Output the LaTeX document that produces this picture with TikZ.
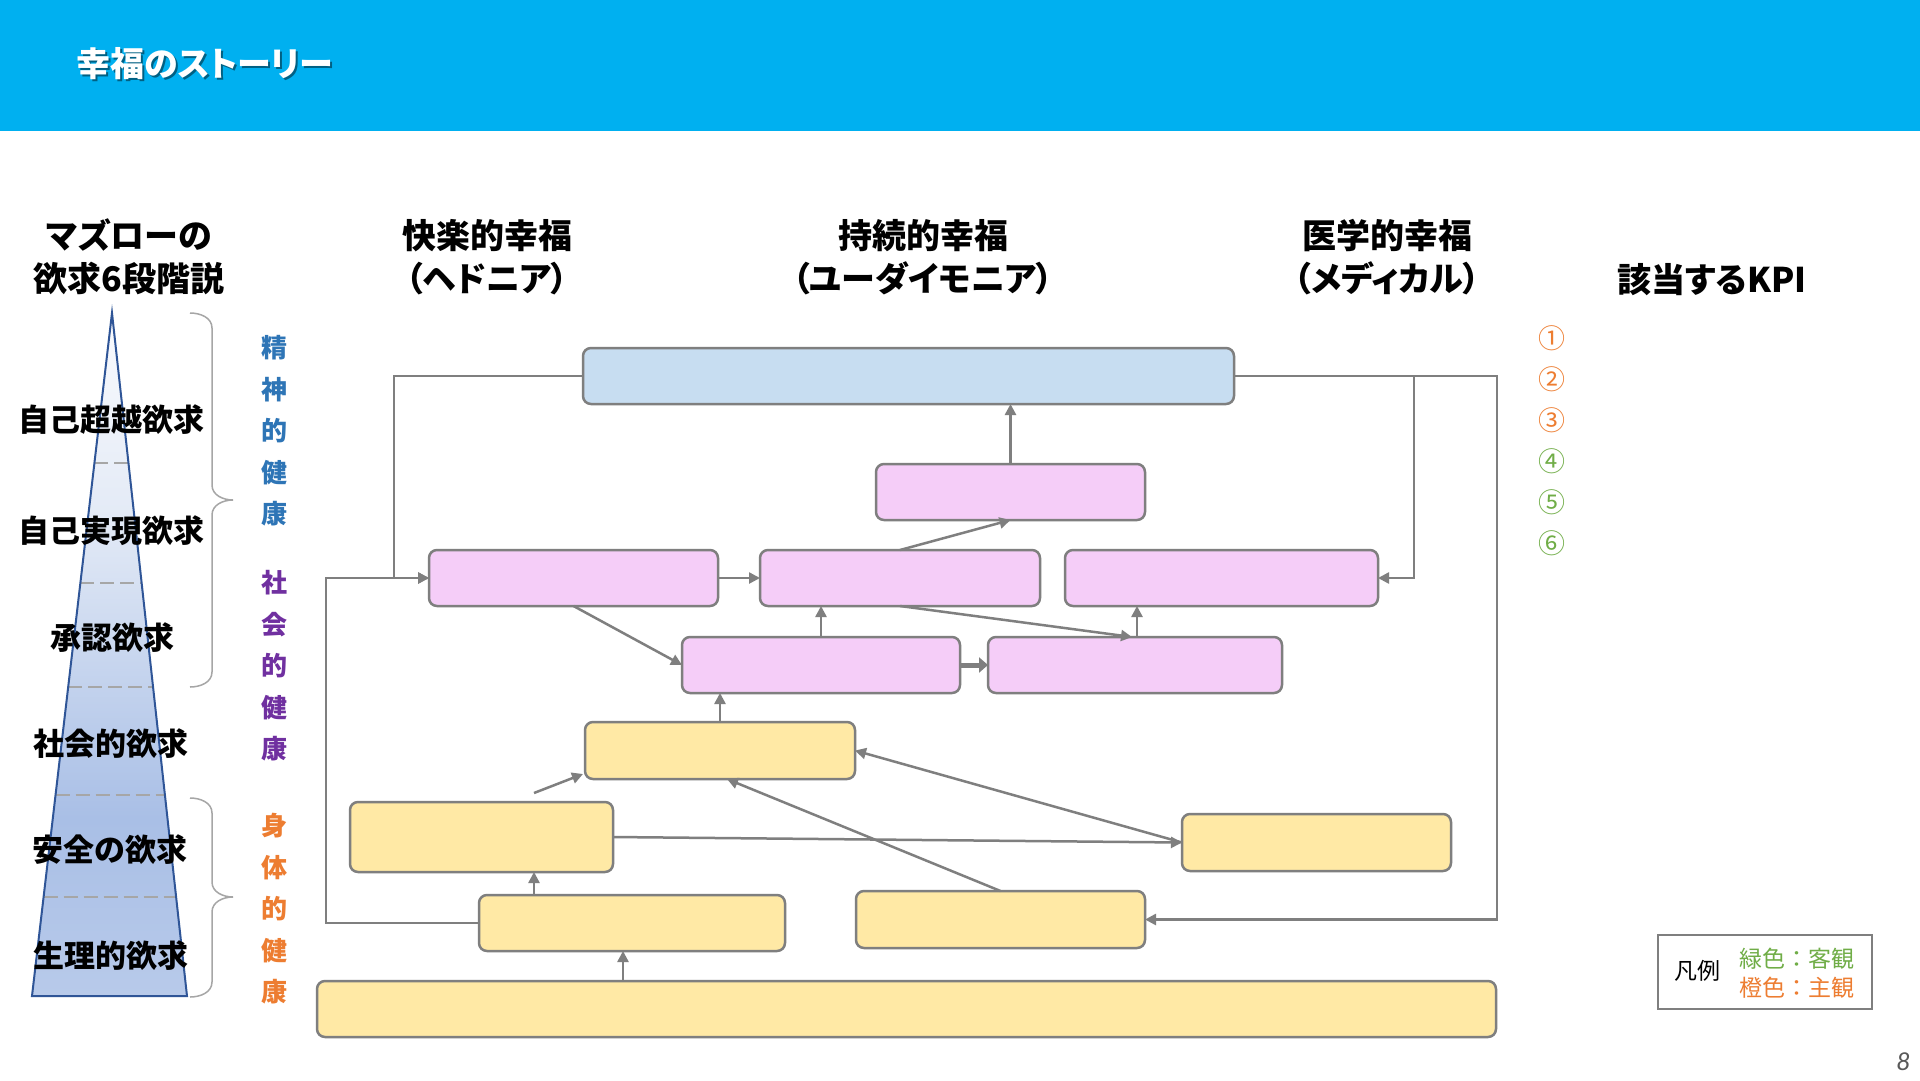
\documentclass[tikz,border=0pt]{standalone}
\usepackage{fontspec}
\setmainfont{Noto Sans CJK JP}
\newfontfamily\jpp{Noto Sans CJK JP}[RawFeature=+palt]
\newfontfamily\pgnum{Carlito}
\usetikzlibrary{arrows.meta,calc}
\definecolor{hdr}{HTML}{00B0F0}
\definecolor{boxline}{HTML}{7F7F7F}
\definecolor{bfill}{HTML}{C7DDF1}
\definecolor{pfill}{HTML}{F5CDF8}
\definecolor{yfill}{HTML}{FFE9A5}
\definecolor{pyrline}{HTML}{2F5597}
\definecolor{pyrtop}{HTML}{FAFBFE}
\definecolor{pyrlt}{HTML}{E3EAF6}
\definecolor{pyrmid}{HTML}{A9BFE6}
\definecolor{pyrbot}{HTML}{B8CAEA}
\definecolor{dashc}{HTML}{A6A6A6}
\definecolor{bracec}{HTML}{A6A6A6}
\definecolor{cblue}{HTML}{2E75B6}
\definecolor{cpurple}{HTML}{7030A0}
\definecolor{corange}{HTML}{ED7D31}
\definecolor{cgreen}{HTML}{70AD47}
\pgfdeclareverticalshading{pyrshade}{100bp}{color(0bp)=(pyrbot); color(25bp)=(pyrbot); color(38bp)=(pyrmid); color(60bp)=(pyrlt); color(75bp)=(pyrtop); color(100bp)=(pyrtop)}
\begin{document}
\begin{tikzpicture}[x=1pt,y=-1pt,
  every node/.style={inner sep=0pt,outer sep=0pt},
  box/.style={draw=boxline,line width=2.5pt,rounded corners=8pt},
  bluebox/.style={box,fill=bfill},
  pinkbox/.style={box,fill=pfill},
  yelbox/.style={box,fill=yfill},
  arr/.style={draw=boxline,line width=2.5pt,-{Triangle[length=11pt,width=11pt]}},
  thickarr/.style={draw=boxline,line width=5pt,-{Triangle[length=9pt,width=15pt]}},
  colhead/.style={font=\jpp\bfseries\fontsize{34}{43}\selectfont,align=center},
  lvl/.style={font=\jpp\bfseries\fontsize{31}{37}\selectfont},
  vert/.style={font=\bfseries\fontsize{26}{41.5}\selectfont,align=center},
  dsh/.style={draw=dashc,line width=2pt,dash pattern=on 14pt off 6pt},
  brc/.style={draw=bracec,line width=1.5pt},
  kpi/.style={font=\fontsize{27}{30}\selectfont},
  leg/.style={font=\fontsize{23}{28}\selectfont}
]
\useasboundingbox (0,0) rectangle (1920,1080);
\fill[white] (0,0) rectangle (1920,1080);
% header
\fill[hdr] (0,0) rectangle (1920,131);
\node[anchor=west,text=black,opacity=0.45,font=\jpp\bfseries\fontsize{34}{40}\selectfont] (titlesh) at (78,66) {幸福のストーリー};
\node[anchor=west,text=white,font=\jpp\bfseries\fontsize{34}{40}\selectfont] (title) at (76,64) {幸福のストーリー};

% column headings
\node[colhead] (h1) at (129,257) {マズローの\\欲求6段階説};
\node[colhead] (h2) at (487,257) {快楽的幸福\\（ヘドニア）};
\node[colhead] (h3) at (923,257) {持続的幸福\\（ユーダイモニア）};
\node[colhead] (h4) at (1387,257) {医学的幸福\\（メディカル）};
\node[colhead] (h5) at (1712,280) {該当するKPI};

% pyramid
\shade[shading=pyrshade] (112,313) -- (187,996) -- (32,996) -- cycle;
\draw[dsh] (94.4,463) -- (128.5,463);
\draw[dsh] (80.4,583) -- (141.6,583);
\draw[dsh] (68.2,687) -- (153.1,687);
\draw[dsh] (55.5,795) -- (164.9,795);
\draw[dsh] (43.6,897) -- (176.1,897);
\draw[pyrline,line width=2pt,line join=miter] (112,313) -- (187,996) -- (32,996) -- cycle;
\node[lvl] (l1) at (111,420) {自己超越欲求};
\node[lvl] (l2) at (111,531) {自己実現欲求};
\node[lvl] (l3) at (112,638) {承認欲求};
\node[lvl] (l4) at (111,744) {社会的欲求};
\node[lvl] (l5) at (110,850) {安全の欲求};
\node[lvl] (l6) at (111,956) {生理的欲求};

% braces
\draw[brc] (190,313) to[out=0,in=90] (212,328) -- (212,485) to[out=-90,in=180] (233,500)
  to[out=180,in=90] (212,515) -- (212,672) to[out=-90,in=0] (190,687);
\draw[brc] (190,798) to[out=0,in=90] (212,813) -- (212,882) to[out=-90,in=180] (233,897)
  to[out=180,in=90] (212,912) -- (212,982) to[out=-90,in=0] (190,997);

% vertical labels
\node[vert,text=cblue] (v1) at (274,431) {精\\神\\的\\健\\康};
\node[vert,text=cpurple] (v2) at (274,666) {社\\会\\的\\健\\康};
\node[vert,text=corange] (v3) at (274,909) {身\\体\\的\\健\\康};

% boxes
\node[bluebox,minimum width=651pt,minimum height=56pt] (b0) at (908.5,376) {};
\node[pinkbox,minimum width=269pt,minimum height=56pt] (p1) at (1010.5,492) {};
\node[pinkbox,minimum width=289pt,minimum height=56pt] (p2) at (573.5,578) {};
\node[pinkbox,minimum width=280pt,minimum height=56pt] (p3) at (900,578) {};
\node[pinkbox,minimum width=313pt,minimum height=56pt] (p4) at (1221.5,578) {};
\node[pinkbox,minimum width=278pt,minimum height=56pt] (p5) at (821,665) {};
\node[pinkbox,minimum width=294pt,minimum height=56pt] (p6) at (1135,665) {};
\node[yelbox,minimum width=270pt,minimum height=57pt] (y1) at (720,750.5) {};
\node[yelbox,minimum width=263pt,minimum height=70pt] (y2) at (481.5,837) {};
\node[yelbox,minimum width=269pt,minimum height=57pt] (y3) at (1316.5,842.5) {};
\node[yelbox,minimum width=306pt,minimum height=56pt] (y4) at (632,923) {};
\node[yelbox,minimum width=289pt,minimum height=57pt] (y5) at (1000.5,919.5) {};
\node[yelbox,minimum width=1179pt,minimum height=56pt] (y6) at (906.5,1009) {};

% connectors
\draw[arr] (b0.west) -- ++(-189,0) |- (p2.west);
\draw[arr] (y4.west) -- ++(-153,0) |- (p2.west);
\draw[arr] (b0.east) -- ++(180,0) |- (p4.east);
\draw[arr] (b0.east) -- ++(263,0) |- (y5.east);
\draw[arr] (p1.north) -- (p1.north |- b0.south);
\draw[arr] (p3.north) -- (p1.south);
\draw[arr] (p2.east) -- (p3.west);
\draw[arr] (p2.south) -- (p5.west);
\draw[arr] (p5.north) -- (p5.north |- p3.south);
\draw[thickarr] (p5.east) -- (p6.west);
\draw[arr] (p3.south) -- ([xshift=-3pt]p6.north);
\draw[arr] ([xshift=2pt]p6.north) -- ([xshift=2pt]p6.north |- p4.south);
\draw[arr] (y1.north) -- (y1.north |- p5.south);
\coordinate (y2out) at ($(y2.north)+(52.5,-9)$);
\draw[arr] (y2out) -- ($(y1.south west)+(-2,-5)$);
\draw[arr] (y2.east) -- (y3.west);
\draw[arr] (y3.west) -- (y1.east);
\draw[arr] (y5.north) -- ([xshift=7pt]y1.south);
\draw[arr] ([xshift=-98pt]y4.north) -- ([xshift=-98pt]y4.north |- y2.south);
\draw[arr] ([xshift=-9pt]y4.south |- y6.north) -- ([xshift=-9pt]y4.south);

% KPI list
\node[kpi,text=corange] (k1) at (1552,338) {①};
\node[kpi,text=corange] (k2) at (1552,379) {②};
\node[kpi,text=corange] (k3) at (1552,420) {③};
\node[kpi,text=cgreen] (k4) at (1552,461) {④};
\node[kpi,text=cgreen] (k5) at (1552,502) {⑤};
\node[kpi,text=cgreen] (k6) at (1552,543) {⑥};

% legend
\node[draw=boxline,line width=2pt,minimum width=214pt,minimum height=74pt] (legend) at (1765,972) {};
\node[leg] (legt) at (1697,971) {凡例};
\node[leg,text=cgreen] (leg1) at (1797,959) {緑色：客観};
\node[leg,text=corange] (leg2) at (1797,988) {橙色：主観};

% page number
\node[text=black!65,font=\pgnum\itshape\fontsize{26}{30}\selectfont] (pg) at (1903,1062) {8};
\end{tikzpicture}
\end{document}
